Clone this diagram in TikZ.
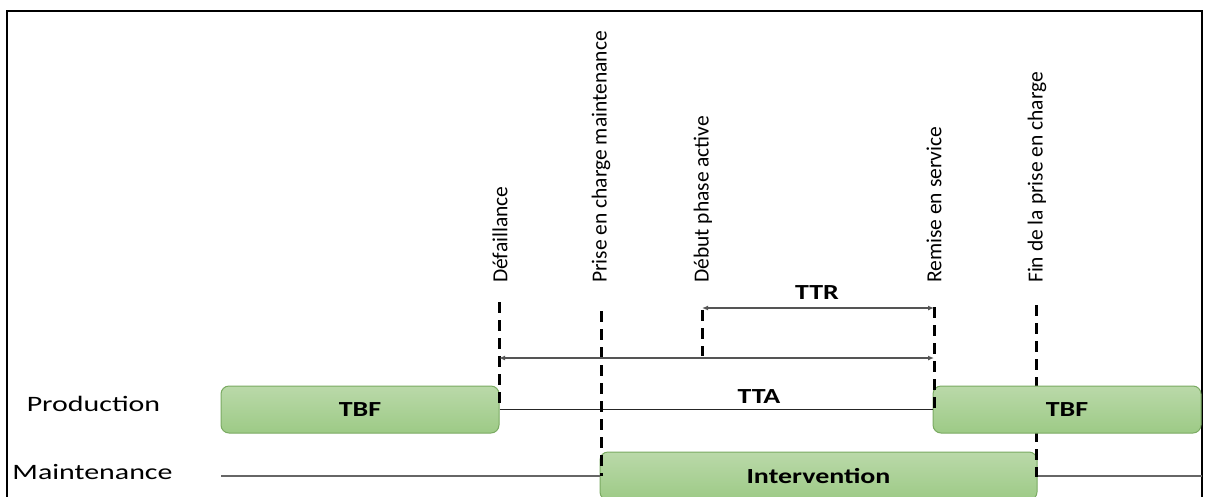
\documentclass[tikz,border=0pt]{standalone}
\usepackage{fontspec}
\setmainfont{Carlito}
\usetikzlibrary{arrows.meta}

\definecolor{bartop}{RGB}{186,217,169}
\definecolor{barbot}{RGB}{157,202,134}
\definecolor{baredge}{RGB}{122,170,98}
\definecolor{dimgray}{RGB}{85,85,85}

% wide lettering used for the horizontal labels
\newcommand{\widetxt}[1]{\scalebox{1.3}[1]{#1}}
\newcommand{\lanetxt}[1]{\scalebox{1.36}[1]{#1}}

\tikzset{
  bar/.style={draw=baredge, line width=1pt, rounded corners=8pt,
    top color=bartop, bottom color=barbot, inner sep=0pt},
  evtline/.style={line width=3pt, dash pattern=on 11pt off 7pt},
  lane/.style={line width=1.1pt},
  dimline/.style={draw=dimgray, line width=1.2pt,
    {Latex[length=6pt,width=5pt]}-{Latex[length=6pt,width=5pt]}},
  lbl/.style={inner sep=0pt, font=\fontsize{22}{24}\selectfont},
  blbl/.style={inner sep=0pt, font=\fontsize{21.5}{24}\selectfont\bfseries},
  evtlbl/.style={inner sep=0pt, rotate=90, anchor=west,
    font=\fontsize{21.5}{24}\selectfont},
}

\begin{document}
\begin{tikzpicture}[x=1pt, y=-1pt]
\useasboundingbox (0,0) rectangle (1206,496);

% outer frame (open at the bottom)
\draw[line width=2.2pt] (7,500) |- (1202,11) -- (1202,500);

% lane titles
\node[lbl] (prod) at (93.5,404) {\lanetxt{Production}};
\node[lbl] (maint) at (92.5,472) {\lanetxt{Maintenance}};

% event markers
\coordinate (def-top) at (499,302);
\coordinate (def-bot) at (499,409);
\coordinate (pec-top) at (601,311);
\coordinate (pec-bot) at (601,476);
\coordinate (dpa-top) at (702,310);
\coordinate (dpa-bot) at (702,356);
\coordinate (rem-top) at (934,307);
\coordinate (rem-bot) at (934,409);
\coordinate (fin-top) at (1036,305);
\coordinate (fin-bot) at (1036,477);

% event labels
\node[evtlbl] (l-def) at (500,283) {Défaillance};
\node[evtlbl] (l-pec) at (601,283) {Prise en charge maintenance};
\node[evtlbl] (l-dpa) at (703,283) {Début phase active};
\node[evtlbl] (l-rem) at (934,283) {Remise en service};
\node[evtlbl] (l-fin) at (1037,283) {Fin de la prise en charge};

% maintenance lane
\coordinate (m-start) at (221,476);
\coordinate (m-end) at (1202,476);
\node[bar, minimum width=437pt, minimum height=48pt] (interv) at (818.5,476)
  {\fontsize{21.5}{24}\selectfont\bfseries\widetxt{Intervention}};
\draw[lane, draw=gray!80!black] (m-start) -- (interv.west);
\draw[lane, draw=gray!80!black] (interv.east) -- (m-end);

% end of the maintenance take-over, partly hidden by the second TBF bar
\draw[evtline] (fin-top) -- (fin-bot);

% production lane
\node[bar, minimum width=278pt, minimum height=47pt] (tbf1) at (360,409.5)
  {\fontsize{21.5}{24}\selectfont\bfseries\widetxt{TBF}};
\node[bar, minimum width=268pt, minimum height=47pt] (tbf2) at (1067,409.5)
  {\fontsize{21.5}{24}\selectfont\bfseries\widetxt{TBF}};
\draw[lane, draw=black!85] (tbf1.east) -- (tbf2.west);

% remaining event markers
\draw[evtline] (def-top) -- (def-bot);
\draw[evtline] (pec-top) -- (pec-bot);
\draw[evtline] (dpa-top) -- (dpa-bot);
\draw[evtline] (rem-top) -- (rem-bot);

% durations
\coordinate (tta-a) at (499,358);
\coordinate (tta-b) at (934,358);
\coordinate (ttr-a) at (702,308);
\coordinate (ttr-b) at (934,308);
\draw[dimline] (tta-a) -- (tta-b);
\draw[dimline] (ttr-a) -- (ttr-b);
\node[blbl] (tta) at (759,397) {\widetxt{TTA}};
\node[blbl] (ttr) at (817,293) {\widetxt{TTR}};
\end{tikzpicture}
\end{document}
